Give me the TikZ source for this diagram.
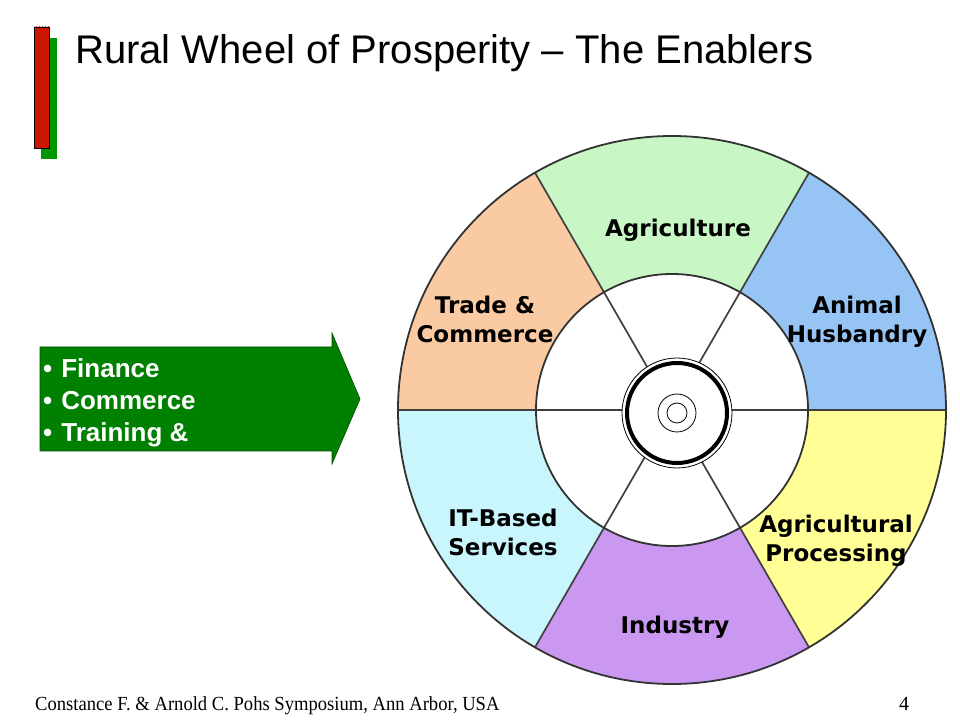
\documentclass[tikz,border=0pt]{standalone}
\usepackage{fontspec}
\setmainfont{Liberation Serif}
\newfontfamily\headfont{Liberation Sans}
\newfontfamily\wheelfont{DejaVu Sans}
\usetikzlibrary{calc, patterns, positioning}

\definecolor{agri}{RGB}{200,246,196}
\definecolor{animal}{RGB}{150,196,245}
\definecolor{trade}{RGB}{250,202,162}
\definecolor{itserv}{RGB}{200,246,252}
\definecolor{industry}{RGB}{202,152,240}
\definecolor{process}{RGB}{255,255,150}
\definecolor{arrowgreen}{RGB}{0,128,0}
\definecolor{barred}{RGB}{222,20,0}
\definecolor{barhatch}{RGB}{170,30,10}
\definecolor{bargreen}{RGB}{0,150,0}

\begin{document}
\begin{tikzpicture}[x=1pt, y=1pt,
    rim/.style={draw=black!80, line width=1.8pt},
    spoke/.style={draw=black!75, line width=1.7pt},
    sectorlabel/.style={font=\wheelfont\bfseries\fontsize{23}{29}\selectfont, align=center, inner sep=0pt}]
    \useasboundingbox (0,0) rectangle (960,720);
    \def\Rout{274}
    \def\Rin{136}
    \coordinate (wheel) at (672,310);
    \coordinate (hub) at (677,307);

    % title bars and title
    \fill[bargreen] (41,561) rectangle (57,682);
    \fill[barred] (34,572) rectangle (49,693);
    \fill[pattern=north east lines, pattern color=barhatch] (34,572) rectangle (49,693);
    \draw[line width=0.7pt] (34,572) rectangle (49,693);
    \node[font=\headfont\fontsize{40}{48}\selectfont, anchor=base west, inner sep=0pt] (title) at (75,656) {Rural Wheel of Prosperity – The Enablers};

    % the wheel
    \foreach \a/\col in {0/animal, 60/agri, 120/trade, 180/itserv, 240/industry, 300/process}
        \fill[\col] ($(wheel)+(\a:\Rin)$) -- ($(wheel)+(\a:\Rout)$) arc[start angle=\a, delta angle=60, radius=\Rout]
            -- ($(wheel)+(\a+60:\Rin)$) arc[start angle=\a+60, delta angle=-60, radius=\Rin] -- cycle;
    \foreach \a in {0,60,...,300}
        \draw[spoke] (wheel) -- ++(\a:\Rout);
    \draw[rim] (wheel) circle[radius=\Rout];
    \draw[rim] (wheel) circle[radius=\Rin];

    \fill[white] (hub) circle[radius=55];
    \draw[line width=0.8pt] (hub) circle[radius=55];
    \draw[line width=4pt] (hub) circle[radius=50];
    \draw[line width=0.8pt] (hub) circle[radius=19] (hub) circle[radius=10];

    \node[sectorlabel, anchor=base] (agriculture) at (678,483) {Agriculture};
    \node[sectorlabel, anchor=north] (trade) at (485,424) {Trade \&\\Commerce};
    \node[sectorlabel, anchor=north] (animal) at (857,424) {Animal\\Husbandry};
    \node[sectorlabel, anchor=north] (itbased) at (503,211) {IT-Based\\Services};
    \node[sectorlabel, anchor=north] (processing) at (836,205) {Agricultural\\Processing};
    \node[sectorlabel, anchor=base] (industry) at (675,87) {Industry};

    % enablers arrow
    \filldraw[fill=arrowgreen, draw=black!70!green, line width=0.6pt]
        (40,373) -- (332,373) -- (332,387) -- (360,321) -- (332,256) -- (332,269) -- (40,269) -- cycle;
    \node[font=\headfont\bfseries\fontsize{26}{32}\selectfont, text=white, align=left, anchor=north west, inner sep=0pt] (enablers) at (43,362) {•\hspace{9pt}Finance\\•\hspace{9pt}Commerce\\•\hspace{9pt}Training \&};

    % footer
    \node[anchor=base west, inner sep=0pt] (footer) at (35,10) {\scalebox{0.93}[1]{\fontsize{20}{24}\selectfont Constance F. \& Arnold C. Pohs Symposium, Ann Arbor, USA}};
    \node[anchor=base, inner sep=0pt, font=\fontsize{20}{24}\selectfont] (pagenum) at (904,10) {4};
\end{tikzpicture}
\end{document}
